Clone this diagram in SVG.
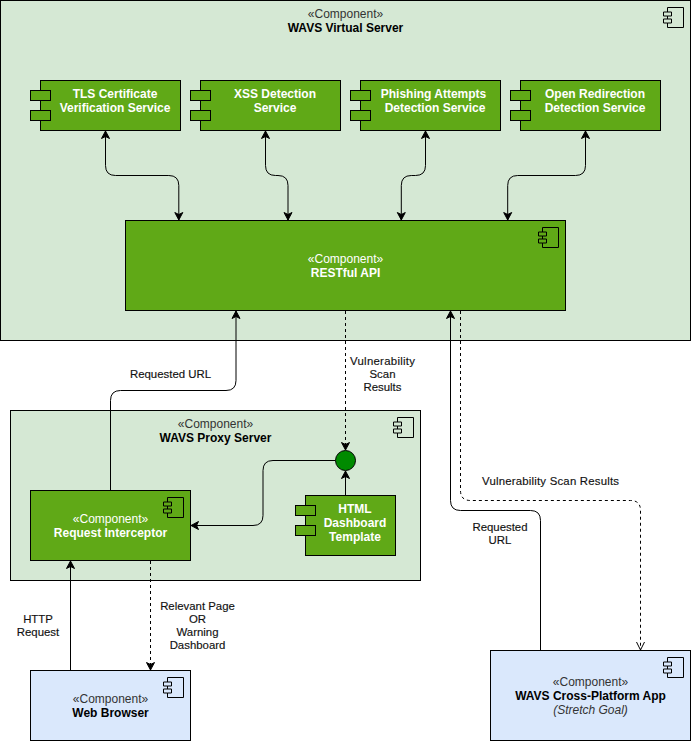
<svg xmlns="http://www.w3.org/2000/svg" width="691" height="741" viewBox="0 0 691 741">
<style>
text{font-family:"Liberation Sans",Arial,Helvetica,sans-serif;font-size:12px;text-anchor:middle;fill:#000}
.b{font-weight:bold}
.w{fill:#fff}
.i{font-style:italic;fill:#333}
.s{fill:#333}
.l{font-size:11.400px;fill:#111;stroke:#111;stroke-width:0.15px}
.lt{fill:#d5e8d4;stroke:#000}
.gr{fill:#60a917;stroke:#000}
.bl{fill:#dae8fc;stroke:#000}
.ic{fill:none;stroke:#000}
.c{fill:none;stroke:#000}
.d{stroke-dasharray:3 3}
</style>
<defs>
<marker id="a" markerUnits="userSpaceOnUse" markerWidth="12" markerHeight="12" refX="8" refY="6" orient="auto-start-reverse"><path d="M0.500 2 L8 6 L0.500 10 L2.500 6 Z" fill="#000" stroke="#000" stroke-width="1"/></marker>
<marker id="o" markerUnits="userSpaceOnUse" markerWidth="12" markerHeight="12" refX="9" refY="6" orient="auto"><path d="M1 2 L9 6 L1 10" fill="none" stroke="#000"/></marker>
<path id="ico" d="M4 0H20V20H4V15.500H0V11.500H8V15.500H4M4 11.500V8.500H0V4.500H8V8.500H4M4 4.500V0" fill="none" stroke="#000"/>
</defs>

<g id="wavs-virtual-server">
<rect class="lt" x="0.500" y="0.500" width="690" height="340"/>
<use href="#ico" x="663.500" y="7.500"/>
<text class="s" x="345.500" y="18">«Component»</text>
<text class="b" x="345.500" y="32">WAVS Virtual Server</text>
</g>
<g id="wavs-proxy-server">
<rect class="lt" x="10.500" y="410.500" width="410" height="170"/>
<use href="#ico" x="393.500" y="417.500"/>
<text class="s" x="215.500" y="428">«Component»</text>
<text class="b" x="215.500" y="442">WAVS Proxy Server</text>
</g>

<g id="connectors">
<path class="c" d="M105.500 131V165.500Q105.500 175.500 115.500 175.500H168.800Q178.800 175.500 178.800 185.500V220" marker-start="url(#a)" marker-end="url(#a)"/>
<path class="c" d="M265.500 131V165.500Q265.500 175.500 275.500 175.500H278Q288 175.500 288 185.500V220" marker-start="url(#a)" marker-end="url(#a)"/>
<path class="c" d="M425.500 131V165.500Q425.500 175.500 415.500 175.500H411.300Q401.300 175.500 401.300 185.500V220" marker-start="url(#a)" marker-end="url(#a)"/>
<path class="c" d="M585.500 131V165.500Q585.500 175.500 575.500 175.500H517.700Q507.700 175.500 507.700 185.500V220" marker-start="url(#a)" marker-end="url(#a)"/>
<path class="c" d="M110.500 490V400.500Q110.500 390.500 120.500 390.500H226Q236 390.500 236 380.500V311" marker-end="url(#a)"/>
<path class="c d" d="M345.500 311V450" marker-end="url(#a)"/>
<path class="c" d="M335.500 460.500H273Q263 460.500 263 470.500V515.500Q263 525.500 253 525.500H191" marker-end="url(#a)"/>
<path class="c" d="M345.500 495V471" marker-end="url(#a)"/>
<path class="c" d="M70.500 670V561" marker-end="url(#a)"/>
<path class="c d" d="M150.500 561V670" marker-end="url(#a)"/>
<path class="c" d="M540.500 650V520.500Q540.500 510.500 530.500 510.500H460.500Q450.500 510.500 450.500 500.500V311" marker-end="url(#a)"/>
<path class="c d" d="M460.500 311V490.500Q460.500 500.500 470.500 500.500H630.500Q640.500 500.500 640.500 510.500V650" marker-end="url(#o)"/>
<text class="l" x="170.500" y="378">Requested URL</text>
<text class="l" x="382.500" y="365" textLength="65">Vulnerability</text>
<text class="l" x="382.500" y="378">Scan</text>
<text class="l" x="382.500" y="391">Results</text>
<text class="l" x="550.500" y="485" textLength="137">Vulnerability Scan Results</text>
<text class="l" x="500" y="531">Requested</text>
<text class="l" x="500" y="544">URL</text>
<text class="l" x="38" y="623">HTTP</text>
<text class="l" x="38" y="636">Request</text>
<text class="l" x="197.500" y="610">Relevant Page</text>
<text class="l" x="197.500" y="623">OR</text>
<text class="l" x="197.500" y="636">Warning</text>
<text class="l" x="197.500" y="649">Dashboard</text>
</g>

<g id="tls-service">
<rect class="gr" x="40.500" y="80.500" width="140" height="50"/>
<rect class="gr" x="30.500" y="90.500" width="20" height="10"/>
<rect class="gr" x="30.500" y="110.500" width="20" height="10"/>
<text class="b w" x="115" y="98">TLS Certificate</text>
<text class="b w" x="115" y="112">Verification Service</text>
</g>
<g id="xss-service">
<rect class="gr" x="200.500" y="80.500" width="140" height="50"/>
<rect class="gr" x="190.500" y="90.500" width="20" height="10"/>
<rect class="gr" x="190.500" y="110.500" width="20" height="10"/>
<text class="b w" x="275" y="98">XSS Detection</text>
<text class="b w" x="275" y="112">Service</text>
</g>
<g id="phishing-service">
<rect class="gr" x="360.500" y="80.500" width="140" height="50"/>
<rect class="gr" x="350.500" y="90.500" width="20" height="10"/>
<rect class="gr" x="350.500" y="110.500" width="20" height="10"/>
<text class="b w" x="433.500" y="98">Phishing Attempts</text>
<text class="b w" x="435" y="112">Detection Service</text>
</g>
<g id="open-redirection-service">
<rect class="gr" x="520.500" y="80.500" width="140" height="50"/>
<rect class="gr" x="510.500" y="90.500" width="20" height="10"/>
<rect class="gr" x="510.500" y="110.500" width="20" height="10"/>
<text class="b w" x="595" y="98">Open Redirection</text>
<text class="b w" x="595" y="112">Detection Service</text>
</g>
<g id="restful-api">
<rect class="gr" x="125.500" y="220.500" width="440" height="90"/>
<use href="#ico" x="538.500" y="227.500"/>
<text class="w" x="345.500" y="263">«Component»</text>
<text class="b w" x="345.500" y="277">RESTful API</text>
</g>
<g id="request-interceptor">
<rect class="gr" x="30.500" y="490.500" width="160" height="70"/>
<use href="#ico" x="163.500" y="497.500"/>
<text class="w" x="110.500" y="523">«Component»</text>
<text class="b w" x="110.500" y="537">Request Interceptor</text>
</g>
<g id="html-dashboard-template">
<rect class="gr" x="305.500" y="495.500" width="90" height="60"/>
<rect class="gr" x="295.500" y="505.500" width="20" height="10"/>
<rect class="gr" x="295.500" y="525.500" width="20" height="10"/>
<text class="b w" x="355" y="513">HTML</text>
<text class="b w" x="355" y="527">Dashboard</text>
<text class="b w" x="355" y="541">Template</text>
</g>
<g id="junction">
<circle cx="345.500" cy="460.500" r="10" fill="#008a00" stroke="#000"/>
</g>
<g id="web-browser">
<rect class="bl" x="30.500" y="670.500" width="160" height="70"/>
<use href="#ico" x="163.500" y="677.500"/>
<text class="s" x="110.500" y="703">«Component»</text>
<text class="b" x="110.500" y="717">Web Browser</text>
</g>
<g id="cross-platform-app">
<rect class="bl" x="490.500" y="650.500" width="200" height="90"/>
<use href="#ico" x="663.500" y="657.500"/>
<text class="s" x="590.500" y="686">«Component»</text>
<text class="b" x="590.500" y="700">WAVS Cross-Platform App</text>
<text class="i" x="590.500" y="714">(Stretch Goal)</text>
</g>
</svg>
